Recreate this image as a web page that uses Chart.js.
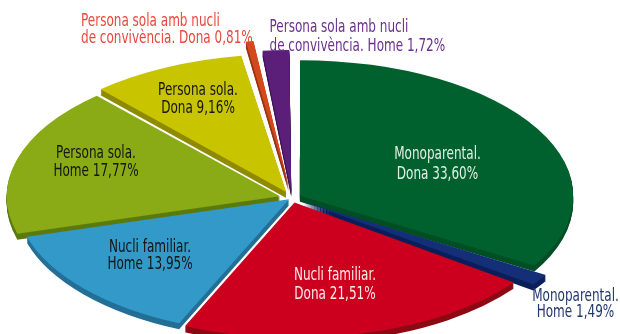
<!DOCTYPE html>
<html>
<head>
<meta charset="utf-8">
<script src="https://cdn.jsdelivr.net/npm/chart.js@4.4.1/dist/chart.umd.min.js"></script>
<style>
  html, body { margin: 0; padding: 0; background: #ffffff; }
  #wrap { position: relative; width: 620px; height: 334px; }
</style>
</head>
<body>
<div id="wrap"><canvas id="chart-llars"></canvas></div>
<script>
/* Tipus de llar per sexe de la persona de referència (%) */

const categories = [
  "Monoparental. Dona",
  "Monoparental. Home",
  "Nucli familiar. Dona",
  "Nucli familiar. Home",
  "Persona sola. Home",
  "Persona sola. Dona",
  "Persona sola amb nucli de convivència. Dona",
  "Persona sola amb nucli de convivència. Home"
];
const values = [33.60, 1.49, 21.51, 13.95, 17.77, 9.16, 0.81, 1.72];
const sliceColors = ["#00612e", "#142f78", "#cc001e", "#3399c8", "#8aab15", "#c9c400", "#d4491c", "#5b1f7a"];
const wallColors = ["#004f25", "#0b1f5a", "#8c0a14", "#236f96", "#5a7a10", "#8f8b00", "#9a3412", "#3f1457"];
const sliceOffsets = [19, 28, 20, 8, 26, 28, 50, 29];

// textos de les etiquetes (dues línies cadascuna)
const labelLines = [
  ["Monoparental.", "Dona 33,60%"],
  ["Monoparental.", "Home 1,49%"],
  ["Nucli familiar.", "Dona 21,51%"],
  ["Nucli familiar.", "Home 13,95%"],
  ["Persona sola.", "Home 17,77%"],
  ["Persona sola.", "Dona 9,16%"],
  ["Persona sola amb nucli", "de convivència. Dona 0,81%"],
  ["Persona sola amb nucli", "de convivència. Home 1,72%"]
];
const labelColors = ["#e2f0e3", "#22376e", "#fbeaea", "#141414", "#141414", "#141414", "#e8473c", "#6b2f8f"];
// x, línia de base de la primera línia, interlineat, alineació
const labelPlaces = [
  [437.5, 159.3, 20, "center"],
  [575.5, 300.7, 16.5, "center"],
  [335, 279.5, 19, "center"],
  [150, 251.7, 17.7, "center"],
  [96, 158, 17.6, "center"],
  [198, 95, 17.7, "center"],
  [81, 26, 16.8, "left"],
  [269.5, 31.7, 19, "left"]
];

// el·lipse del pastís en perspectiva
const ELLIPSE = { cx: 292, cy: 198, rx: 272, ry: 135, depth: 6 };
const FONT = '17px "Liberation Sans Narrow", "DejaVu Sans Condensed", "Open Sans", sans-serif';
const NARROW_REF = ["Monoparental.", 86.7];

function tiltTransform(ctx, arc, dy) {
  const sx = ELLIPSE.rx / arc.outerRadius;
  const sy = ELLIPSE.ry / arc.outerRadius;
  ctx.translate(ELLIPSE.cx, ELLIPSE.cy + dy);
  ctx.scale(sx, sy);
  ctx.translate(-arc.x, -arc.y);
}

// pastís inclinat amb gruix: primer les parets fosques, després la cara superior
const tiltPlugin = {
  id: "tilt3d",
  beforeDatasetsDraw(chart) {
    const ctx = chart.ctx;
    const arcs = chart.getDatasetMeta(0).data;
    if (!arcs.length) return;
    for (let d = ELLIPSE.depth; d >= 1; d--) {
      ctx.save();
      tiltTransform(ctx, arcs[0], d);
      arcs.forEach((arc, i) => {
        const wall = Object.assign(Object.create(Object.getPrototypeOf(arc)), arc);
        wall.options = Object.assign({}, arc.options, {
          backgroundColor: wallColors[i],
          borderColor: wallColors[i],
          borderWidth: 0
        });
        wall.draw(ctx);
      });
      ctx.restore();
    }
    ctx.save();
    tiltTransform(ctx, arcs[0], 0);
  },
  afterDatasetsDraw(chart) {
    if (chart.getDatasetMeta(0).data.length) chart.ctx.restore();
  },
  afterDraw(chart) {
    const ctx = chart.ctx;
    ctx.save();
    ctx.font = FONT;
    ctx.textBaseline = "alphabetic";
    // tipografia estreta: es comprimeix horitzontalment
    const narrow = NARROW_REF[1] / ctx.measureText(NARROW_REF[0]).width;
    labelLines.forEach((lines, i) => {
      const [x, y, lead, align] = labelPlaces[i];
      ctx.fillStyle = labelColors[i];
      ctx.textAlign = align;
      lines.forEach((t, k) => {
        ctx.save();
        ctx.translate(x, y + k * lead);
        ctx.scale(narrow, 1);
        ctx.fillText(t, 0, 0);
        ctx.restore();
      });
    });
    ctx.restore();
  }
};

new Chart(document.getElementById("chart-llars"), {
  type: "pie",
  data: {
    labels: categories,
    datasets: [{
      data: values,
      backgroundColor: sliceColors,
      borderWidth: 0,
      offset: sliceOffsets,
      clip: 600
    }]
  },
  options: {
    responsive: true,
    maintainAspectRatio: false,
    animation: false,
    events: [],
    layout: { padding: 0 },
    plugins: {
      legend: { display: false },
      tooltip: { enabled: false },
      title: { display: false }
    }
  },
  plugins: [tiltPlugin]
});
</script>
</body>
</html>
